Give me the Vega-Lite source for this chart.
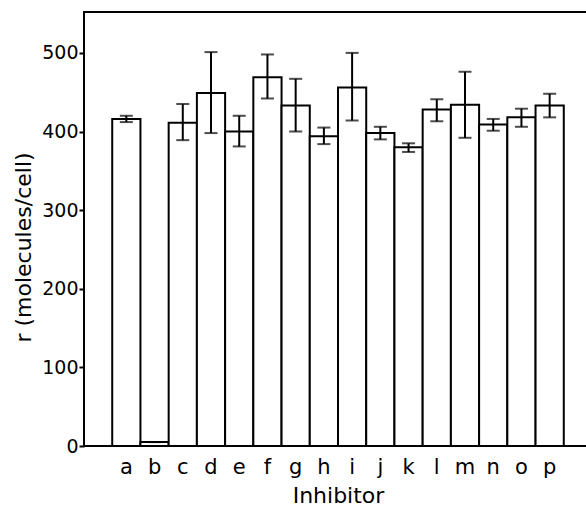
{
  "$schema": "https://vega.github.io/schema/vega-lite/v6.json",
  "autosize": "none",
  "padding": {"left": 84, "top": 12, "right": 0, "bottom": 64},
  "width": 508,
  "height": 434,
  "config": {
    "view": {"stroke": "black", "strokeWidth": 2},
    "font": "DejaVu Sans",
    "axis": {"labelColor": "black", "titleColor": "black", "labelFont": "DejaVu Sans", "titleFont": "DejaVu Sans", "titleFontWeight": "normal", "grid": false}
  },
  "data": {
    "values": [
      {"inhibitor": "a", "r": 416, "lo": 412, "hi": 420},
      {"inhibitor": "b", "r": 5, "lo": 5, "hi": 5},
      {"inhibitor": "c", "r": 411, "lo": 389, "hi": 435},
      {"inhibitor": "d", "r": 449, "lo": 398, "hi": 501},
      {"inhibitor": "e", "r": 400, "lo": 381, "hi": 420},
      {"inhibitor": "f", "r": 469, "lo": 442, "hi": 498},
      {"inhibitor": "g", "r": 433, "lo": 400, "hi": 467},
      {"inhibitor": "h", "r": 394, "lo": 384, "hi": 405},
      {"inhibitor": "i", "r": 456, "lo": 414, "hi": 500},
      {"inhibitor": "j", "r": 398, "lo": 390, "hi": 406},
      {"inhibitor": "k", "r": 380, "lo": 374, "hi": 385},
      {"inhibitor": "l", "r": 428, "lo": 413, "hi": 441},
      {"inhibitor": "m", "r": 434, "lo": 392, "hi": 476},
      {"inhibitor": "n", "r": 409, "lo": 401, "hi": 416},
      {"inhibitor": "o", "r": 418, "lo": 406, "hi": 429},
      {"inhibitor": "p", "r": 433, "lo": 418, "hi": 448}
    ]
  },
  "encoding": {
    "x": {
      "field": "inhibitor", "type": "nominal",
      "scale": {"paddingInner": 0, "paddingOuter": 1},
      "axis": {"title": "Inhibitor", "labelAngle": 0, "ticks": false, "domain": false, "labelFontSize": 21, "labelPadding": 10, "titleFontSize": 22, "titlePadding": 8}
    }
  },
  "layer": [
    {
      "mark": {"type": "bar", "fill": "white", "stroke": "black", "strokeWidth": 2},
      "encoding": {
        "y": {
          "field": "r", "type": "quantitative",
          "scale": {"domain": [0, 552], "nice": false},
          "axis": {"title": "r (molecules/cell)", "values": [0, 100, 200, 300, 400, 500], "domain": false, "tickColor": "black", "tickWidth": 2, "tickSize": 5, "labelFontSize": 19, "labelPadding": 1, "titleFontSize": 22, "titlePadding": 6, "titleY": 235}
        }
      }
    },
    {
      "mark": {"type": "rule", "stroke": "black", "strokeWidth": 2},
      "encoding": {"y": {"field": "lo", "type": "quantitative"}, "y2": {"field": "hi"}}
    },
    {
      "mark": {"type": "tick", "color": "black", "thickness": 2, "size": 13},
      "encoding": {"y": {"field": "lo", "type": "quantitative"}}
    },
    {
      "mark": {"type": "tick", "color": "black", "thickness": 2, "size": 13},
      "encoding": {"y": {"field": "hi", "type": "quantitative"}}
    }
  ]
}
